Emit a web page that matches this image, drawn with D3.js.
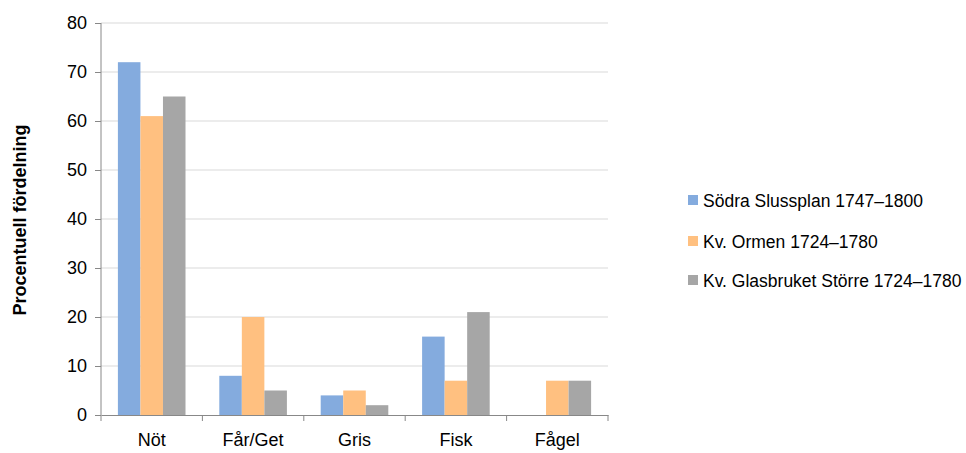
<!DOCTYPE html>
<html>
<head>
<meta charset="utf-8">
<script src="https://cdn.jsdelivr.net/npm/d3@7"></script>
<style>
  body { margin: 0; background: #fff; }
  svg { font-family: "Liberation Sans", Arial, sans-serif; }
</style>
</head>
<body>
<div id="chart"></div>
<script>
var categories = ["Nöt", "Får/Get", "Gris", "Fisk", "Fågel"];
var seriesNames = ["Södra Slussplan 1747–1800", "Kv. Ormen 1724–1780", "Kv. Glasbruket Större 1724–1780"];
var sodra = [72, 8, 4, 16, 0];
var ormen = [61, 20, 5, 7, 7];
var glasbruket = [65, 5, 2, 21, 7];
var yTicks = [0, 10, 20, 30, 40, 50, 60, 70, 80];
var colors = ["#84ABDE", "#FFC080", "#A6A6A6"];

var series = [sodra, ormen, glasbruket];
var width = 966, height = 453;
var plot = {left: 101, right: 608, top: 23, bottom: 415};

var svg = d3.select("#chart").append("svg")
  .attr("width", width)
  .attr("height", height);

var y = d3.scaleLinear().domain([0, 80]).range([plot.bottom, plot.top]);
var x0 = d3.scaleBand().domain(categories).range([plot.left, plot.right]).padding(0);
var bw = x0.bandwidth();
var gap = bw * 1.5 / 4.5;
var x1 = d3.scaleBand().domain([0, 1, 2]).range([gap / 2, bw - gap / 2]).padding(0);

// gridlines
svg.append("g")
  .selectAll("line")
  .data(yTicks.filter(function(d) { return d > 0; }))
  .enter().append("line")
  .attr("x1", plot.left).attr("x2", plot.right)
  .attr("y1", function(d) { return y(d); })
  .attr("y2", function(d) { return y(d); })
  .attr("stroke", "#D9D9D9")
  .attr("stroke-width", 1);

// bars
var groups = svg.append("g")
  .selectAll("g")
  .data(categories)
  .enter().append("g")
  .attr("transform", function(d) { return "translate(" + x0(d) + ",0)"; });

groups.selectAll("rect")
  .data(function(d, i) { return series.map(function(s, k) { return {k: k, v: s[i]}; }); })
  .enter().append("rect")
  .filter(function(d) { return d.v > 0; })
  .attr("x", function(d) { return x1(d.k); })
  .attr("y", function(d) { return y(d.v); })
  .attr("width", x1.bandwidth())
  .attr("height", function(d) { return plot.bottom - y(d.v); })
  .attr("fill", function(d) { return colors[d.k]; });

// y axis
var yAxis = svg.append("g")
  .attr("transform", "translate(" + plot.left + ",0)")
  .call(d3.axisLeft(y).tickValues(yTicks).tickSize(6).tickPadding(8).tickFormat(d3.format("d")));
yAxis.select(".domain").attr("stroke", "#888").attr("d", "M0," + plot.top + "V" + plot.bottom);
yAxis.selectAll(".tick line").attr("stroke", "#888");
yAxis.selectAll(".tick text").attr("font-size", 18).attr("fill", "#000")
  .style("font-family", "'Liberation Sans', Arial, sans-serif");

// x axis
var xAxis = svg.append("g")
  .attr("transform", "translate(0," + plot.bottom + ")")
  .call(d3.axisBottom(x0).tickSize(0).tickPadding(18));
xAxis.select(".domain").attr("stroke", "#888");
xAxis.selectAll(".tick text").attr("font-size", 18).attr("fill", "#000")
  .style("font-family", "'Liberation Sans', Arial, sans-serif");
// category separator ticks
svg.append("g")
  .selectAll("line")
  .data(categories.map(function(c) { return x0(c); }).concat([plot.right]))
  .enter().append("line")
  .attr("x1", function(d) { return d; }).attr("x2", function(d) { return d; })
  .attr("y1", plot.bottom).attr("y2", plot.bottom + 6)
  .attr("stroke", "#888");

// y title
svg.append("text")
  .attr("transform", "translate(26," + ((plot.top + plot.bottom) / 2 + 1) + ") rotate(-90)")
  .attr("text-anchor", "middle")
  .attr("font-size", 18)
  .attr("font-weight", "bold")
  .text("Procentuell fördelning");

// legend
var legend = svg.append("g")
  .selectAll("g")
  .data(seriesNames)
  .enter().append("g")
  .attr("transform", function(d, i) { return "translate(688," + [200, 241, 280][i] + ")"; });
legend.append("rect")
  .attr("x", 0).attr("y", -5)
  .attr("width", 10).attr("height", 10)
  .attr("fill", function(d, i) { return colors[i]; });
legend.append("text")
  .attr("x", 15).attr("y", 6.5)
  .attr("font-size", 17.5)
  .text(function(d) { return d; });
</script>
</body>
</html>
